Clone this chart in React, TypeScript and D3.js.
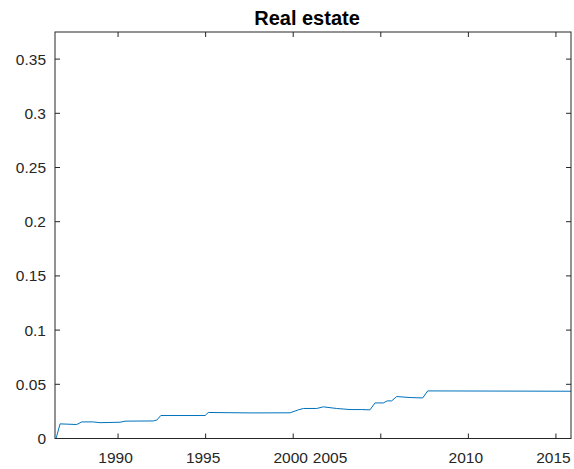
import React from "react";
import * as d3 from "d3";

// Real estate share over time (year, value)
const years = [
  1986.46, 1986.69, 1987.64, 1987.93, 1988.59, 1988.97, 1990.11, 1990.4,
  1992.01, 1992.21, 1992.44, 1994.97, 1995.15, 1997.53, 1999.82, 2000.29,
  2000.58, 2001.34, 2001.72, 2002.48, 2003.24, 2003.91, 2004.38, 2004.67,
  2005.14, 2005.37, 2005.62, 2005.91, 2006.67, 2007.39, 2007.68, 2015.86,
];
const values = [
  0, 0.0135, 0.0129, 0.0153, 0.0153, 0.0146, 0.015, 0.016,
  0.0162, 0.017, 0.0212, 0.0212, 0.024, 0.0236, 0.0237, 0.0264,
  0.0277, 0.0277, 0.0292, 0.0277, 0.0267, 0.0267, 0.0264, 0.0328,
  0.0328, 0.0347, 0.0347, 0.0387, 0.0378, 0.0374, 0.0439, 0.0436,
];

const xTickMarks = [1990, 1995, 2000, 2005, 2010, 2015];
const xTickLabelValues = [1990, 1995, 2000, 2002.25, 2010, 2015];
const xTickLabelTexts = ["1990", "1995", "2000", "2005", "2010", "2015"];
const yTicks = [0, 0.05, 0.1, 0.15, 0.2, 0.25, 0.3, 0.35];
const yTickLabels = ["0", "0.05", "0.1", "0.15", "0.2", "0.25", "0.3", "0.35"];

const W = 574;
const H = 469;
const plot = { left: 55, right: 571, top: 32, bottom: 438.5 };
const axisColor = "#262626";
const font = "Arial, 'Liberation Sans', Helvetica, sans-serif";
const tickLen = 5;

export default function App() {
  const x = d3.scaleLinear().domain([1986.4, 2015.86]).range([plot.left, plot.right]);
  const y = d3.scaleLinear().domain([0, 0.375]).range([plot.bottom, plot.top]);

  const line = d3
    .line<number>()
    .x((_, i) => x(years[i]))
    .y((v) => y(v));

  return (
    <svg
      width={W}
      height={H}
      style={{ position: "absolute", left: 0, top: 0, background: "#fff" }}
      fontFamily={font}
    >
      <rect x={0} y={0} width={W} height={H} fill="#fff" />
      <text
        x={(plot.left + plot.right) / 2 - 6}
        y={25}
        textAnchor="middle"
        fontSize={20}
        fontWeight="bold"
        fill="#000"
      >
        Real estate
      </text>

      {/* data line */}
      <path d={line(values) ?? ""} fill="none" stroke="#0072BD" strokeWidth={1} />

      {/* axes box */}
      <rect
        x={plot.left}
        y={plot.top}
        width={plot.right - plot.left}
        height={plot.bottom - plot.top}
        fill="none"
        stroke={axisColor}
        strokeWidth={1}
      />

      {/* x ticks (bottom and top, pointing inward) */}
      {xTickMarks.map((t) => (
        <g key={`xt${t}`} stroke={axisColor} strokeWidth={1}>
          <line x1={x(t)} x2={x(t)} y1={plot.bottom} y2={plot.bottom - tickLen} />
          <line x1={x(t)} x2={x(t)} y1={plot.top} y2={plot.top + tickLen} />
        </g>
      ))}
      {xTickLabelValues.map((t, i) => (
        <text
          key={`xl${i}`}
          x={x(t) - 2.5}
          y={462.5}
          textAnchor="middle"
          fontSize={15.5}
          fill={axisColor}
        >
          {xTickLabelTexts[i]}
        </text>
      ))}

      {/* y ticks (left and right, pointing inward) */}
      {yTicks.map((t, i) => (
        <g key={`yt${i}`}>
          <line x1={plot.left} x2={plot.left + tickLen} y1={y(t)} y2={y(t)} stroke={axisColor} />
          <line x1={plot.right} x2={plot.right - tickLen} y1={y(t)} y2={y(t)} stroke={axisColor} />
          <text
            x={46}
            y={y(t) + 5.5}
            textAnchor="end"
            fontSize={15.5}
            fill={axisColor}
          >
            {yTickLabels[i]}
          </text>
        </g>
      ))}
    </svg>
  );
}
